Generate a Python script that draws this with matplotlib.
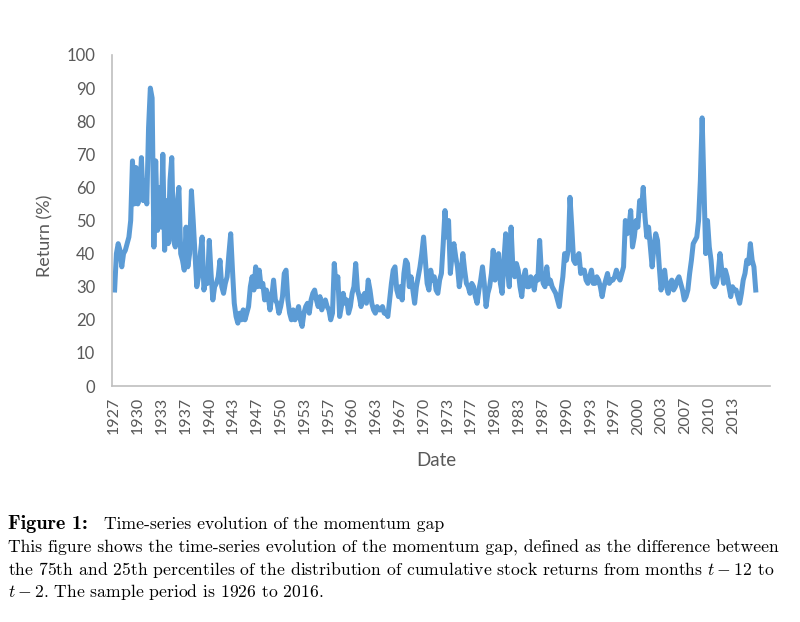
import matplotlib
matplotlib.use("Agg")
import matplotlib.pyplot as plt
import numpy as np

# quarterly momentum gap (%), 1927Q1 .. 2016Q4
gap = np.array([
    29, 40, 43, 41,  36, 40, 41, 43,  45, 50, 68, 55,  66, 55, 58, 69,  56, 62, 55, 78,   # 1927-31
    90, 87, 42, 68,  47, 60, 48, 70,  41, 56, 43, 62,  69, 44, 42, 55,  60, 40, 38, 35,   # 1932-36
    48, 36, 40, 59,  50, 40, 30, 33,  40, 45, 29, 32,  31, 44, 34, 26,  30, 31, 33, 38,   # 1937-41
    30, 28, 31, 33,  40, 46, 35, 25,  21, 19, 22, 20,  23, 20, 22, 24,  30, 33, 29, 36,   # 1942-46
    30, 35, 30, 31,  26, 29, 27, 23,  27, 32, 26, 25,  22, 24, 27, 34,  35, 26, 22, 20,   # 1947-51
    23, 20, 22, 24,  20, 18, 22, 24,  25, 22, 26, 28,  29, 26, 24, 27,  23, 25, 26, 24,   # 1952-56
    23, 20, 22, 37,  30, 33, 21, 24,  28, 25, 26, 22,  24, 28, 30, 37,  29, 27, 24, 27,   # 1957-61
    28, 25, 32, 29,  25, 23, 22, 24,  23, 23, 24, 22,  22, 21, 26, 31,  35, 36, 29, 27,   # 1962-66
    30, 26, 34, 38,  37, 30, 33, 29,  25, 30, 33, 36,  40, 45, 38, 31,  29, 35, 32, 33,   # 1967-71
    29, 28, 32, 34,  43, 53, 45, 50,  34, 40, 43, 39,  36, 30, 34, 40,  35, 31, 30, 28,   # 1972-76
    31, 30, 27, 25,  29, 32, 36, 31,  24, 28, 30, 34,  41, 32, 34, 40,  31, 28, 38, 46,   # 1977-81
    35, 30, 48, 36,  33, 37, 35, 30,  27, 33, 35, 30,  30, 33, 32, 29,  33, 32, 44, 34,   # 1982-86
    31, 30, 36, 31,  32, 30, 29, 28,  26, 24, 29, 33,  40, 38, 41, 57,  48, 38, 37, 39,   # 1987-91
    40, 34, 35, 35,  32, 31, 33, 35,  31, 31, 33, 32,  30, 27, 30, 32,  34, 31, 32, 32,   # 1992-96
    33, 35, 33, 32,  34, 36, 50, 46,  48, 53, 42, 45,  50, 48, 56, 53,  60, 51, 45, 48,   # 1997-01
    42, 36, 42, 46,  44, 36, 29, 33,  35, 30, 28, 31,  32, 29, 30, 32,  33, 31, 29, 26,   # 2002-06
    27, 29, 34, 38,  43, 44, 45, 50,  62, 81, 60, 40,  50, 42, 38, 31,  30, 31, 34, 40,   # 2007-11
    35, 31, 35, 33,  30, 27, 30, 29,  29, 27, 25, 28,  32, 34, 38, 37,  43, 38, 36, 29,   # 2012-16
])

start_year = 1927
months = np.arange(len(gap)) * 3 + 1          # mid-quarter, months since Jan 1927
tick_months = np.arange(0, 1080, 40)           # excel category axis, label every 40 rows
tick_labels = [str(start_year + m // 12) for m in tick_months]

plt.rcParams["mathtext.fontset"] = "cm"
plt.rcParams["font.family"] = "Lato"
grey = "#595959"

fig = plt.figure(figsize=(8, 6.22), dpi=100)
ax = fig.add_axes([0.14, 0.3794, 0.8225, 0.5322])
ax.plot(months, gap, color="#5B9BD5", lw=3.6, solid_joinstyle="round")

ax.set_xlim(-3.4, 1102)
ax.set_ylim(0, 100)
ax.set_yticks(range(0, 101, 10))
ax.set_xticks(tick_months)
ax.set_xticklabels(tick_labels, rotation=90)
ax.tick_params(axis="both", length=0, labelcolor=grey)
ax.tick_params(axis="y", pad=12, labelsize=12)
ax.tick_params(axis="x", pad=8, labelsize=11.5)
for s in ["top", "right"]:
    ax.spines[s].set_visible(False)
for s in ["left", "bottom"]:
    ax.spines[s].set_color("#BFBFBF")
    ax.spines[s].set_linewidth(1.2)

fig.text(45 / 800, 1 - 236 / 622, "Return (%)", rotation=90, ha="center", va="center",
         color=grey, fontsize=13)
fig.text(436 / 800, 1 - 460 / 622, "Date", ha="center", va="center", color=grey, fontsize=13.5)

# caption
cap_x = 8 / 800
fs = 12.7
fig.text(cap_x, 1 - 524 / 622, "Figure 1:", family="cmb10", fontsize=14.5, va="center")
fig.text(104 / 800, 1 - 524 / 622, "Time-series evolution of the momentum gap",
         family="cmr10", fontsize=fs, va="center")
fig.text(cap_x, 1 - 548 / 622,
         "This figure shows the time-series evolution of the momentum gap, defined as the difference between",
         family="cmr10", fontsize=fs, va="center")
fig.text(cap_x, 1 - 570 / 622,
         "the 75th and 25th percentiles of the distribution of cumulative stock returns from months $t-12$ to",
         family="cmr10", fontsize=fs, va="center")
fig.text(cap_x, 1 - 592 / 622, "$t-2$. The sample period is 1926 to 2016.",
         family="cmr10", fontsize=fs, va="center")

fig.savefig("out.png", dpi=100)
